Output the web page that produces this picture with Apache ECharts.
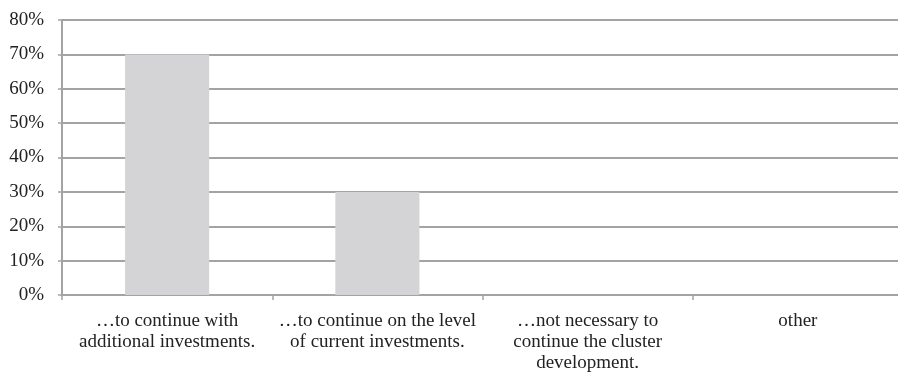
<!DOCTYPE html>
<html>
<head>
<meta charset="utf-8">
<script src="https://cdn.jsdelivr.net/npm/echarts@6/dist/echarts.min.js"></script>
<style>
  html, body { margin: 0; padding: 0; background: #fff; }
  #chart { width: 898px; height: 373px; }
</style>
</head>
<body>
<div id="chart"></div>
<script>
  const categories = [
    '\u2026to continue with\nadditional investments.',
    '\u2026to continue on the level\nof current investments.',
    '\u2026not necessary to\ncontinue the cluster\ndevelopment.',
    'other'
  ]
  const shares = [70, 30, 0, 0]

  const lineColor = '#a3a3a3'
  const chart = echarts.init(document.getElementById('chart'))
  chart.setOption({
    animation: false,
    textStyle: { fontFamily: 'Liberation Serif' },
    grid: { left: 62, top: 20, width: 841, height: 275, outerBoundsMode: 'none' },
    xAxis: {
      type: 'category',
      data: categories,
      axisLine: { lineStyle: { color: lineColor, width: 2 } },
      axisTick: { show: true, length: 5, lineStyle: { color: lineColor, width: 1.5 } },
      axisLabel: {
        color: '#222',
        fontSize: 19,
        fontFamily: 'Liberation Serif',
        lineHeight: 21,
        margin: 16,
        interval: 0
      }
    },
    yAxis: {
      type: 'value',
      min: 0,
      max: 80,
      interval: 10,
      axisLine: { show: true, lineStyle: { color: lineColor, width: 2 } },
      axisTick: { show: true, length: 4, lineStyle: { color: lineColor, width: 1.5 } },
      axisLabel: {
        color: '#222',
        fontSize: 19,
        fontFamily: 'Liberation Serif',
        margin: 18,
        formatter: '{value}%'
      },
      splitLine: { lineStyle: { color: lineColor, width: 2 } }
    },
    series: [
      {
        type: 'bar',
        data: shares,
        barWidth: '40%',
        itemStyle: { color: '#d4d4d6' }
      }
    ]
  })
</script>
</body>
</html>
